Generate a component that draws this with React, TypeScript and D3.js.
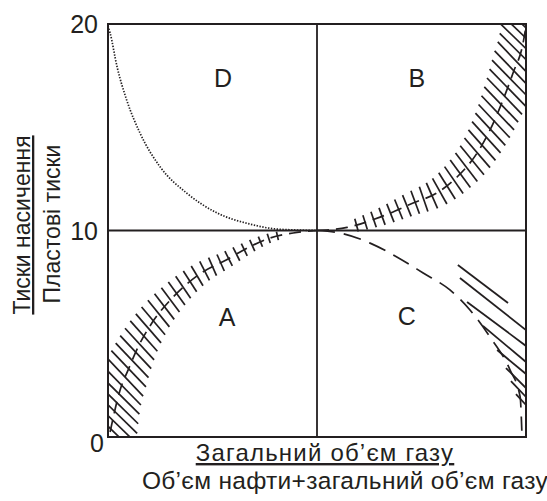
import React, { useEffect, useRef } from "react";
import * as d3 from "d3";

const WIDTH = 547;
const HEIGHT = 501;
const MARGIN = { top: 24, right: 21, bottom: 64, left: 108 };

// Horizontal axis: share of gas volume (0..1); vertical axis: pressure ratio (0..20)
const yTicks = [0, 10, 20];

// D — dotted curve, upper-left quadrant
const curveDx = [0, 0.005, 0.022, 0.045, 0.077, 0.124, 0.189, 0.261, 0.34, 0.404, 0.5];
const curveDy = [19.9, 19.56, 17.9, 16.3, 14.7, 13.1, 11.8, 10.85, 10.31, 10.07, 10];

// C — dashed curve, lower-right quadrant
const curveCx = [0.5, 0.555, 0.627, 0.691, 0.754, 0.818, 0.866, 0.914, 0.962, 0.986, 0.99];
const curveCy = [10, 9.88, 9.39, 8.72, 7.94, 7.12, 6.15, 4.84, 3.24, 1.94, 0.3];

// A — hatched band, lower-left quadrant
const curveAx = [0.005, 0.029, 0.048, 0.072, 0.105, 0.156, 0.22, 0.285, 0.316, 0.388, 0.443, 0.5];
const curveAy = [0.24, 2.28, 3.24, 4.36, 5.52, 6.78, 7.9, 8.6, 8.96, 9.64, 9.88, 10];

// B — hatched band, upper-right quadrant
const curveBx = [0.5, 0.572, 0.651, 0.73, 0.787, 0.835, 0.883, 0.914, 0.945, 0.969, 0.993, 1.0];
const curveBy = [10, 10.15, 10.65, 11.33, 11.82, 12.59, 13.75, 14.87, 16.32, 17.63, 19.08, 19.9];

// Short hatch strokes along the outside of curve C: [x0, y0, x1, y1]
const hatchC = [
  [0.837, 8.33, 0.957, 6.49],
  [0.842, 7.7, 1.0, 5.18],
  [0.859, 6.54, 1.0, 4.41],
  [0.897, 5.38, 1.0, 3.63],
  [0.931, 4.21, 1.0, 3.05],
  [0.952, 3.34, 1.0, 2.37],
  [0.964, 2.71, 1.0, 1.94],
  [0.976, 2.08, 1.0, 1.55],
];

// Quadrant letters
const quadrantNames = ["D", "B", "A", "C"];
const quadrantX = [0.275, 0.739, 0.285, 0.715];
const quadrantY = [17.4, 17.4, 5.8, 5.85];

const INK = "#231f20";
const FONT = "'Liberation Sans', Arial, Helvetica, sans-serif";

export default function App() {
  const ref = useRef<SVGSVGElement | null>(null);

  useEffect(() => {
    const svg = d3.select(ref.current);
    svg.selectAll("*").remove();

    const x = d3.scaleLinear().domain([0, 1]).range([MARGIN.left, WIDTH - MARGIN.right]);
    const y = d3.scaleLinear().domain([0, 20]).range([HEIGHT - MARGIN.bottom, MARGIN.top]);

    svg
      .append("defs")
      .append("clipPath")
      .attr("id", "plot-clip")
      .append("rect")
      .attr("x", x(0))
      .attr("y", y(20))
      .attr("width", x(1) - x(0))
      .attr("height", y(0) - y(20));

    const plot = svg.append("g").attr("clip-path", "url(#plot-clip)");

    const line = d3
      .line<[number, number]>()
      .x((d) => x(d[0]))
      .y((d) => y(d[1]))
      .curve(d3.curveMonotoneX);

    const zip = (xs: number[], ys: number[]) =>
      xs.map((v, i) => [v, ys[i]] as [number, number]);

    // dotted curve D
    plot
      .append("path")
      .attr("d", line(zip(curveDx, curveDy)))
      .attr("fill", "none")
      .attr("stroke", INK)
      .attr("stroke-width", 1.7)
      .attr("stroke-dasharray", "1.4,1.5");

    // dashed curve C
    plot
      .append("path")
      .attr("d", line(zip(curveCx, curveCy)))
      .attr("fill", "none")
      .attr("stroke", INK)
      .attr("stroke-width", 1.7)
      .attr("stroke-dasharray", "18,9");

    // hatch strokes next to C
    plot
      .selectAll("line.hc")
      .data(hatchC)
      .join("line")
      .attr("class", "hc")
      .attr("x1", (d) => x(d[0]))
      .attr("y1", (d) => y(d[1]))
      .attr("x2", (d) => x(d[2]))
      .attr("y2", (d) => y(d[3]))
      .attr("stroke", INK)
      .attr("stroke-width", 1.8);

    // hatched bands A and B: a dashed centre line with cross strokes
    // whose length grows with the distance s from the centre point
    const band = (
      xs: number[],
      ys: number[],
      fromEnd: boolean,
      width: (s: number) => number
    ) => {
      const path = plot
        .append("path")
        .attr("d", line(zip(xs, ys)))
        .attr("fill", "none")
        .attr("stroke", INK)
        .attr("stroke-width", 1.7)
        .attr("stroke-dasharray", "12,7");
      const node = path.node() as SVGPathElement;
      const total = node.getTotalLength();
      const strokes: [number, number, number, number][] = [];
      for (let s = 40; s < total + 20; s += 9) {
        const l = fromEnd ? total - s : s;
        const lc = Math.max(0, Math.min(total, l));
        const p = node.getPointAtLength(lc);
        const a = node.getPointAtLength(Math.max(0, lc - 1.5));
        const b = node.getPointAtLength(Math.min(total, lc + 1.5));
        const phi = (Math.atan(Math.abs((b.y - a.y) / (b.x - a.x || 1e-6))) * 180) / Math.PI;
        const psi = (50 * Math.tanh(phi / 50) * Math.PI) / 180;
        const dx = Math.sin(psi);
        const dy = Math.cos(psi);
        const len = width(s);
        // extend past the end of the curve along its tangent
        let cx = p.x;
        let cy = p.y;
        if (l > total || l < 0) {
          const over = l > total ? l - total : l;
          const tx = b.x - a.x;
          const ty = b.y - a.y;
          const n = Math.hypot(tx, ty) || 1;
          cx += (tx / n) * over;
          cy += (ty / n) * over;
        }
        strokes.push([cx - (dx * len) / 2, cy - (dy * len) / 2, cx + (dx * len) / 2, cy + (dy * len) / 2]);
      }
      plot
        .append("g")
        .selectAll("line")
        .data(strokes)
        .join("line")
        .attr("x1", (d) => d[0])
        .attr("y1", (d) => d[1])
        .attr("x2", (d) => d[2])
        .attr("y2", (d) => d[3])
        .attr("stroke", INK)
        .attr("stroke-width", 1.7);
    };

    band(curveAx, curveAy, true, (s) => 4 + 0.1 * s + 0.00035 * s * s);
    band(curveBx, curveBy, false, (s) => 6 + 0.18 * s);

    // frame and centre cross
    const frame = svg.append("g").attr("stroke", INK).attr("fill", "none");
    frame
      .append("line")
      .attr("x1", x(0.5))
      .attr("x2", x(0.5))
      .attr("y1", y(0))
      .attr("y2", y(20))
      .attr("stroke-width", 1.8);
    frame
      .append("line")
      .attr("x1", x(0))
      .attr("x2", x(1))
      .attr("y1", y(10))
      .attr("y2", y(10))
      .attr("stroke-width", 1.8);
    frame
      .append("rect")
      .attr("x", x(0))
      .attr("y", y(20))
      .attr("width", x(1) - x(0))
      .attr("height", y(0) - y(20))
      .attr("stroke-width", 2);

    // y tick labels
    svg
      .append("g")
      .selectAll("text")
      .data(yTicks)
      .join("text")
      .attr("x", (d) => x(0) - (d === 0 ? 4 : 10))
      .attr("y", (d) => y(d) + (d === 0 ? 6 : 0))
      .attr("dy", "0.36em")
      .attr("text-anchor", "end")
      .attr("font-family", FONT)
      .attr("font-size", 25)
      .attr("fill", INK)
      .text((d) => String(d));

    // quadrant letters
    svg
      .append("g")
      .selectAll("text")
      .data(quadrantNames)
      .join("text")
      .attr("x", (_, i) => x(quadrantX[i]))
      .attr("y", (_, i) => y(quadrantY[i]))
      .attr("dy", "0.36em")
      .attr("text-anchor", "middle")
      .attr("font-family", FONT)
      .attr("font-size", 25)
      .attr("fill", INK)
      .text((d) => d);

    // x axis title (fraction)
    svg
      .append("text")
      .attr("x", 325)
      .attr("y", 461)
      .attr("text-anchor", "middle")
      .attr("font-family", FONT)
      .attr("font-size", 24)
      .attr("letter-spacing", 1.2)
      .attr("fill", INK)
      .attr("text-decoration", "underline")
      .text("Загальний об’єм газу");
    svg
      .append("text")
      .attr("x", 345)
      .attr("y", 489)
      .attr("text-anchor", "middle")
      .attr("font-family", FONT)
      .attr("font-size", 24.5)
      .attr("letter-spacing", 0.3)
      .attr("fill", INK)
      .text("Об’єм нафти+загальний об’єм газу");

    // y axis title (fraction)
    svg
      .append("text")
      .attr("transform", "translate(30,225) rotate(-90)")
      .attr("text-anchor", "middle")
      .attr("font-family", FONT)
      .attr("font-size", 23)
      .attr("fill", INK)
      .attr("text-decoration", "underline")
      .text("Тиски насичення");
    svg
      .append("text")
      .attr("transform", "translate(60,224) rotate(-90)")
      .attr("text-anchor", "middle")
      .attr("font-family", FONT)
      .attr("font-size", 23)
      .attr("fill", INK)
      .text("Пластові тиски");
  }, []);

  return (
    <svg
      ref={ref}
      width={WIDTH}
      height={HEIGHT}
      style={{ position: "absolute", left: 0, top: 0, background: "#fff" }}
    />
  );
}
